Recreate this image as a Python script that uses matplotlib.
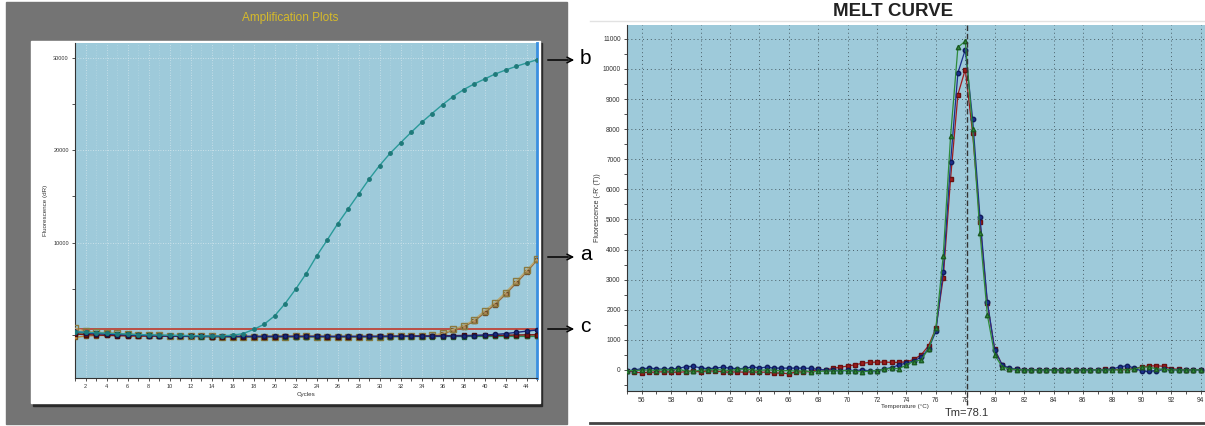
import numpy as np
import matplotlib
matplotlib.use("Agg")
import matplotlib.pyplot as plt
from matplotlib.patches import Rectangle

plt.rcParams['font.family'] = ['Liberation Sans', 'DejaVu Sans']

# ---- amplification data (cycles 1..45) ----
cycles = np.arange(1, 46)
amp_b = [350, 300, 250, 200, 150, 100, 50, 20, 0, -20, -40, -60, -80, -100, -80, -20,
         150, 600, 1160, 2060, 3390, 4940, 6620, 8530, 10250, 12010, 13630, 15240, 16850,
         18330, 19650, 20800, 21920, 23000, 23970, 24930, 25800, 26550, 27160, 27700,
         28240, 28670, 29070, 29430, 29790]
amp_a1 = [750, 400, 300, 250, 200, 100, 50, 0, -30, -60, -90, -110, -130, -150, -160,
          -170, -170, -170, -170, -160, -160, -150, -150, -160, -170, -170, -180, -180,
          -170, -160, -150, -130, -120, -100, -40, 180, 620, 1010, 1630, 2610, 3510,
          4600, 5800, 6990, 8230]
amp_a2 = [200, 300, 250, 200, 150, 80, 30, -10, -40, -70, -100, -120, -140, -160, -170,
          -180, -180, -180, -180, -170, -170, -160, -160, -170, -180, -180, -190, -190,
          -180, -170, -160, -140, -130, -110, -60, 120, 500, 900, 1480, 2400, 3300,
          4400, 5600, 6800, 8100]
base_blue = [350, 250, 150, 100, 50, 0, -30, -60, -80, -100, -120, -130, -140, -150,
             -150, -150, -150, -150, -150, -150, -150, -150, -150, -150, -150, -150,
             -150, -150, -150, -150, -140, -140, -130, -130, -120, -120, -110, -100,
             -60, 0, 60, 150, 280, 420, 550]
base_red = [100, 50, 0, -30, -60, -80, -100, -110, -120, -130, -140, -150, -150, -160,
            -160, -160, -160, -160, -160, -160, -150, -150, -150, -150, -160, -160,
            -160, -160, -150, -150, -140, -130, -120, -110, -100, -80, -60, -50, -40,
            -40, -30, -20, 0, 20, 30]
base_green = [250, 220, 180, 140, 100, 60, 20, -20, -60, -100, -130, -150, -160, -170,
              -170, -180, -180, -180, -180, -180, -180, -180, -180, -180, -180, -180,
              -180, -180, -180, -170, -170, -170, -160, -160, -160, -160, -160, -160,
              -150, -150, -150, -150, -150, -150, -150]
base_orange = [-250, -120, -60, -40, -60, -80, -100, -110, -120, -130, -140, -150, -150,
               -160, -160, -160, -170, -170, -170, -170, -170, -160, -160, -160, -170,
               -170, -170, -170, -170, -160, -160, -150, -150, -140, -140, -130, -130,
               -130, -120, -120, -120, -120, -120, -120, -120]
threshold = 700

# ---- melt curve data (55..94 degC, 0.5 step) ----
temps = np.arange(55.0, 94.01, 0.5)
melt_blue = [-30, 0, 40, 60, 40, 20, 30, 50, 110, 120, 70, 40, 60, 90, 60, 40, 50, 100,
             70, 90, 60, 60, 60, 60, 60, 50, 20, 0, -10, -20, -10, -20, 0, -30, -20, 30,
             80, 170, 230, 300, 420, 700, 1280, 3270, 6900, 9870, 10640, 8340, 5080,
             2270, 670, 170, 50, 20, 10, 0, 10, 0, -5, 0, 0, 5, 0, 0, 0, 5, 30, 100,
             140, 60, -40, -50, -20, 20, 10, 0, 0, 0, 0]
melt_red = [-20, -80, -90, -80, -70, -60, -70, -80, -60, -50, -60, -30, -40, -60, -80,
            -60, -80, -60, -80, -70, -110, -100, -130, -60, -70, -50, 20, 0, 50, 90, 130,
            170, 220, 250, 260, 260, 250, 250, 270, 350, 500, 800, 1380, 3050, 6350, 9150,
            9980, 7870, 4900, 2220, 690, 170, 40, 20, 10, 10, 0, 10, 0, 0, 10, 0, 0, 10,
            10, 20, 20, 10, 20, 40, 100, 130, 140, 120, 40, 20, 10, 10, 0]
melt_green = [-30, -20, -10, 0, -20, 10, 0, 20, -30, -50, -10, 0, 10, 0, -20, 20, 30, 0,
              -20, 10, -10, -30, -20, -40, -30, -60, -50, -40, -30, -30, -20, -40, -60,
              -40, -20, 20, 60, 40, 170, 280, 330, 700, 1380, 3790, 7760, 10720, 10920,
              8000, 4550, 1830, 500, 110, 30, 10, 0, 0, 0, 0, 0, 0, 0, 0, 0, 0, 0, 0, 0,
              0, 10, 20, 100, 90, 40, 20, 0, 0, 0, 0, 0]
tm = 78.1

W, H = 1205, 426
fig = plt.figure(figsize=(W / 100, H / 100), dpi=100)

def frac(x0, y0, x1, y1):
    # pixel box (top-left origin) -> figure fraction
    return [x0 / W, 1 - y1 / H, (x1 - x0) / W, (y1 - y0) / H]

# background decorations in pixel coordinates
bg = fig.add_axes([0, 0, 1, 1], zorder=-1)
bg.set_xlim(0, W)
bg.set_ylim(H, 0)
bg.axis('off')
bg.add_patch(Rectangle((6, 2), 561, 422, color='#747474'))
bg.add_patch(Rectangle((33, 43), 509, 363, color='#2a2a2a'))
bg.add_patch(Rectangle((31, 41), 509, 362, color='white'))
bg.text(290, 18, 'Amplification Plots', color='#d6ba2a', fontsize=8.5,
        ha='center', va='center')
for y, lab in [(60, 'b'), (257, 'a'), (329, 'c')]:
    bg.annotate('', xy=(577, y), xytext=(545, y),
                arrowprops=dict(arrowstyle='->', color='black', lw=1.1))
    bg.text(580, y - 2, lab, fontsize=15, ha='left', va='center')
bg.plot([590, W], [21, 21], color='#e2e2e2', lw=1)
bg.plot([590, W], [423, 423], color='#444444', lw=2)
bg.text(893, 12, 'MELT CURVE', fontsize=13.5, fontweight='bold',
        ha='center', va='center', color='#222222')

plot_bg = '#9ecada'

# ---- left: amplification plots ----
ax = fig.add_axes(frac(75, 43, 537, 378))
ax.set_facecolor(plot_bg)
ax.set_xlim(1, 45)
ax.set_ylim(-4650, 31600)
for c in range(1, 46):
    ax.axvline(c, color='#d8e8ee', lw=0.6, ls=(0, (1, 2)),
               alpha=0.9 if c % 2 == 0 else 0.4, zorder=1)
for v in [10000, 20000, 30000]:
    ax.axhline(v, color='#d8e8ee', lw=0.6, ls=(0, (1, 2)), zorder=1)
ax.axhline(threshold, color='#c0392b', lw=1.2, zorder=2)

ax.plot(cycles, base_orange, color='#c08a3a', lw=1, marker='s', ms=3,
        mfc='#d59a45', mec='#7a5520', zorder=3)
ax.plot(cycles, base_green, color='#2e8a50', lw=1, marker='s', ms=3.5,
        mfc='#2e8a50', mec='#1d5a33', zorder=5)
ax.plot(cycles, base_red, color='#7a1414', lw=1, marker='s', ms=3,
        mfc='#7a1414', mec='#4a0a0a', zorder=5)
ax.plot(cycles, base_blue, color='#1a2a80', lw=1, marker='o', ms=3,
        mfc='#1a2a80', mec='#101a50', zorder=5)
ax.plot(cycles, amp_a2, color='#9a6a3a', lw=1, marker='s', ms=3.5,
        mfc='#b89060', mec='#6a4a2a', zorder=4)
ax.plot(cycles, amp_a1, color='#b8a870', lw=1, marker='s', ms=4,
        mfc='none', mec='#8a7a40', zorder=4)
ax.plot(cycles, amp_b, color='#2a9a9a', lw=1, marker='o', ms=2.5,
        mfc='#1f7a7a', mec='#1f7a7a', zorder=6)

ax.set_xticks(range(2, 45, 2))
ax.set_xticks(range(1, 46), minor=True)
ax.set_yticks([10000, 20000, 30000])
ax.set_yticks([0, 5000, 15000, 25000], minor=True)
ax.tick_params(which='both', direction='out', labelsize=4, colors='#333333',
               length=2.5, width=0.6, pad=2)
ax.set_xlabel('Cycles', fontsize=4.5, color='#333333', labelpad=2)
ax.set_ylabel('Fluorescence (dR)', fontsize=4.5, color='#333333', labelpad=4)
ax.spines['top'].set_visible(False)
ax.spines['right'].set_color('#3a8fe0')
ax.spines['right'].set_linewidth(2)
ax.spines['left'].set_color('#333333')
ax.spines['bottom'].set_color('#333333')

# ---- right: melt curve ----
ax2 = fig.add_axes(frac(627, 25, 1205, 391))
ax2.set_facecolor(plot_bg)
ax2.set_xlim(55.0, 94.3)
ax2.set_ylim(-700, 11460)
ax2.set_xticks(range(56, 95, 2))
ax2.set_xticks(range(55, 95), minor=True)
ax2.set_yticks(range(0, 11001, 1000))
ax2.set_yticks(range(-500, 11500, 500), minor=True)
ax2.grid(True, which='major', color='#4a5f68', lw=0.7, ls=(0, (1, 3)))
ax2.set_axisbelow(True)
ax2.tick_params(which='both', direction='out', labelsize=4.8, colors='#333333',
                length=2.5, width=0.6, pad=2)
ax2.plot(temps, melt_red, color='#a01c1c', lw=0.9, marker='s', ms=3.2,
         mec='#6a1010', zorder=3)
ax2.plot(temps, melt_blue, color='#1c2f8c', lw=0.9, marker='o', ms=3.2,
         mec='#101c5a', zorder=4)
ax2.plot(temps, melt_green, color='#2e8b3a', lw=0.9, marker='^', ms=3.2,
         mec='#1c5a24', zorder=5)
ax2.plot([tm, tm], [11460, -1150], color='#333333', lw=1, ls=(0, (4, 2)),
         clip_on=False, zorder=6)
ax2.text(tm, -1420, 'Tm=78.1', fontsize=8, color='#333333', ha='center', va='center')
ax2.set_xlabel('Temperature (\u00b0C)', fontsize=4.5, color='#333333')
ax2.xaxis.set_label_coords(0.48, -0.035)
ax2.set_ylabel("Fluorescence (-R' (T))", fontsize=5, color='#333333', labelpad=1)
for s in ['top', 'right']:
    ax2.spines[s].set_visible(False)
ax2.spines['left'].set_color('#333333')
ax2.spines['bottom'].set_color('#333333')

fig.savefig('out.png', dpi=100)
